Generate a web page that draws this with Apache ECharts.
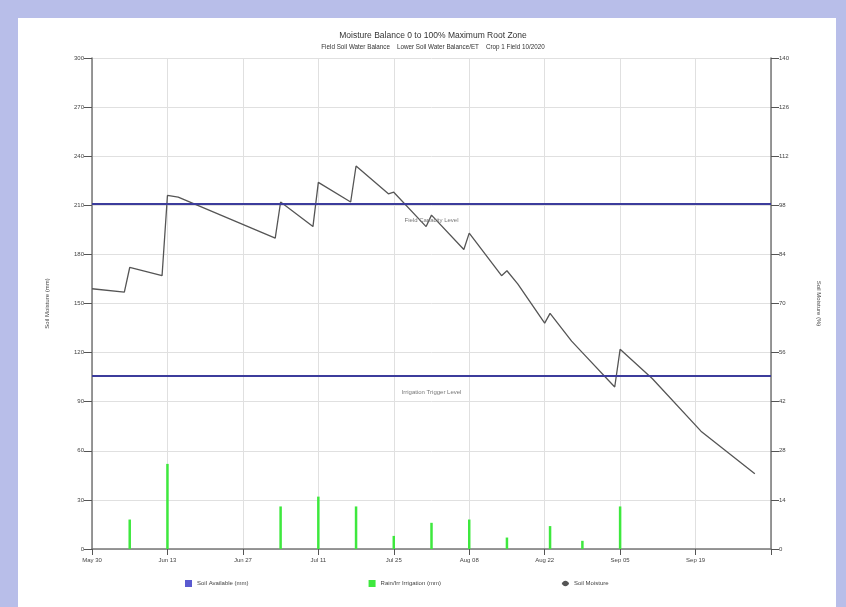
<!DOCTYPE html>
<html>
<head>
<meta charset="utf-8">
<script src="https://cdn.jsdelivr.net/npm/echarts@6/dist/echarts.min.js"></script>
<style>
html,body{margin:0;padding:0;width:846px;height:607px;overflow:hidden;background:#b8bee9;}
#panel{position:absolute;left:18px;top:18px;width:818px;height:589px;background:#ffffff;}
#chart{position:absolute;left:0;top:0;width:846px;height:607px;}
</style>
</head>
<body>
<div id="panel"></div>
<div id="chart"></div>
<script>
// Day index counted from May 30
const tickLabels = ['May 30','Jun 13','Jun 27','Jul 11','Jul 25','Aug 08','Aug 22','Sep 05','Sep 19',''];
const moistureDays = [0,6,7,13,14,16,34,35,41,42,48,49,55,56,62,63,69,70,76,77,79,84,85,89,91,97,98,104,113,123];
const moistureValues = [159,157,172,167,216,215,190,212,197,224,212,234,217,218,197,204,183,193,167,170,162,138,144,127,120,99,122,104,72,46];
const rainDays = [7,14,35,42,49,56,63,70,77,85,91,98];
const rainValues = [18,52,26,32,26,8,16,18,7,14,5,26];
const upperLevel = 211;
const lowerLevel = 106;
const titleText = 'Moisture Balance 0 to 100% Maximum Root Zone';
const subTitleText = 'Field Soil Water Balance    Lower Soil Water Balance/ET    Crop 1 Field 10/2020';
const legendNames = ['Soil Available (mm)','Rain/Irr Irrigation (mm)','Soil Moisture'];

const chart = echarts.init(document.getElementById('chart'));
const font = 'Liberation Sans';
chart.setOption({
  backgroundColor: 'transparent',
  animation: false,
  textStyle: {fontFamily: font},
  title: {
    text: titleText, subtext: subTitleText, left: 428, textAlign: 'center', top: 26, itemGap: 4,
    textStyle: {fontSize: 8.5, fontWeight: 'normal', color: '#333', fontFamily: font},
    subtextStyle: {fontSize: 6.3, color: '#333', fontFamily: font}
  },
  legend: {
    bottom: 15, left: 180, itemGap: 120, itemWidth: 7, itemHeight: 7,
    textStyle: {fontSize: 6, color: '#444'},
    data: [
      {name: legendNames[0], icon: 'rect'},
      {name: legendNames[1], icon: 'rect'},
      {name: legendNames[2]}
    ]
  },
  grid: {left: 92, right: 75, top: 58, bottom: 58},
  xAxis: {
    type: 'value', min: 0, max: 126, interval: 14,
    axisLine: {lineStyle: {color: '#777', width: 1.5}},
    axisTick: {length: 6, lineStyle: {color: '#555'}},
    axisLabel: {fontSize: 6, color: '#444', margin: 8,
      formatter: v => tickLabels[Math.round(v / 14)] || ''},
    splitLine: {show: true, lineStyle: {color: '#e0e0e0'}}
  },
  yAxis: [
    {
      type: 'value', min: 0, max: 300, interval: 30,
      name: 'Soil Moisture (mm)', nameLocation: 'middle', nameGap: 42,
      nameTextStyle: {fontSize: 6, color: '#444'},
      axisLine: {show: true, lineStyle: {color: '#777', width: 1.5}},
      axisTick: {show: true, length: 8, lineStyle: {color: '#555'}},
      axisLabel: {fontSize: 6, color: '#444', margin: 8},
      splitLine: {show: true, lineStyle: {color: '#e0e0e0'}}
    },
    {
      type: 'value', min: 0, max: 140, interval: 14, position: 'right',
      name: 'Soil Moisture (%)', nameLocation: 'middle', nameGap: 45, nameRotate: -90,
      nameTextStyle: {fontSize: 6, color: '#444'},
      axisLine: {show: true, lineStyle: {color: '#777', width: 1.5}},
      axisTick: {show: true, length: 8, inside: false, lineStyle: {color: '#555'}},
      axisLabel: {fontSize: 6, color: '#444', margin: 8},
      splitLine: {show: false}
    }
  ],
  series: [
    {
      name: legendNames[0], type: 'line', data: [], symbol: 'rect',
      itemStyle: {color: '#5a5ad0'}, lineStyle: {color: '#5a5ad0'},
      markLine: {
        silent: true, symbol: 'none',
        lineStyle: {color: '#3c3c9c', width: 2, type: 'solid'},
        label: {position: 'insideMiddleBottom', fontSize: 6, color: '#777', distance: 14},
        data: [
          {yAxis: upperLevel, label: {formatter: 'Field Capacity Level'}},
          {yAxis: lowerLevel, label: {formatter: 'Irrigation Trigger Level'}}
        ]
      }
    },
    {
      name: legendNames[1], type: 'bar', barWidth: 2.5,
      itemStyle: {color: '#3ee83e'},
      data: rainDays.map((d, i) => [d, rainValues[i]])
    },
    {
      name: legendNames[2], type: 'line', symbol: 'none',
      lineStyle: {color: '#555', width: 1.3}, itemStyle: {color: '#555'},
      data: moistureDays.map((d, i) => [d, moistureValues[i]])
    }
  ]
});
</script>
</body>
</html>
